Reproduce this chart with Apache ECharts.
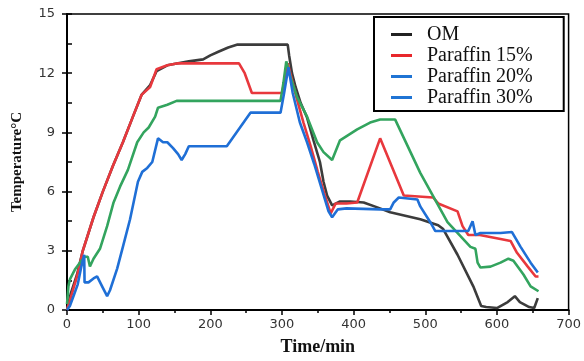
<!DOCTYPE html>
<html>
<head>
<meta charset="utf-8">
<script src="https://cdn.jsdelivr.net/npm/echarts@6/dist/echarts.min.js"></script>
<style>
  html, body { margin: 0; padding: 0; background: #fff; }
  #chart { width: 584px; height: 361px; }
</style>
</head>
<body>
<div id="chart"></div>
<script>
// 数据 [time(min), temperature(°C)]
var omData = [[0,0],[5,0.8],[14,1.8],[22,3.0],[37,4.7],[50,6.0],[64,7.3],[78,8.5],[92,9.8],[104,10.9],[116,11.4],[125,12.1],[140,12.4],[155,12.5],[170,12.6],[190,12.7],[200,12.9],[212,13.1],[225,13.3],[238,13.45],[308,13.45],[310,12.9],[314,12.0],[319,11.3],[326,10.5],[335,9.75],[344,8.6],[353,7.5],[358,6.5],[363,5.8],[370,5.3],[381,5.5],[395,5.5],[414,5.45],[433,5.2],[451,4.95],[475,4.75],[493,4.6],[518,4.3],[525,4.1],[545,2.8],[567,1.2],[578,0.2],[585,0.15],[600,0.1],[615,0.4],[625,0.7],[632,0.4],[645,0.15],[652,0.1],[657,0.6]];
var p15Data = [[0,0],[5,0.6],[14,1.7],[22,3.0],[37,4.7],[50,6.0],[64,7.3],[78,8.5],[92,9.8],[104,10.9],[116,11.3],[125,12.2],[140,12.4],[155,12.5],[240,12.5],[248,12.0],[258,11.0],[300,11.0],[303,11.5],[308,12.5],[313,11.8],[320,10.8],[330,9.5],[340,8.3],[350,7.0],[360,5.8],[368,4.9],[375,5.4],[390,5.4],[405,5.45],[437,8.7],[470,5.8],[511,5.7],[518,5.4],[545,5.0],[552,4.25],[560,3.8],[576,3.8],[605,3.6],[619,3.5],[628,2.9],[643,2.2],[654,1.7],[658,1.7]];
var p20Data = [[0,0],[4,0.2],[10,0.8],[15,1.3],[20,2.2],[24,2.8],[24.5,1.4],[30,1.4],[37,1.6],[42,1.7],[49,1.2],[56,0.7],[60,1.0],[70,2.1],[78,3.2],[88,4.6],[99,6.5],[105,7.0],[112,7.2],[119,7.5],[127,8.7],[134,8.5],[140,8.5],[148,8.2],[155,7.9],[160,7.6],[165,7.9],[170,8.3],[223,8.3],[256,10.0],[298,10.0],[303,11.0],[309,12.3],[315,11.0],[325,9.5],[335,8.5],[345,7.4],[355,6.2],[365,5.0],[370,4.7],[378,5.1],[390,5.15],[437,5.1],[451,5.1],[456,5.45],[463,5.7],[489,5.6],[493,5.25],[507,4.45],[514,4.0],[560,4.0],[566,4.5],[570,3.8],[577,3.9],[605,3.9],[621,3.95],[633,3.2],[647,2.4],[657,1.9]];
var p30Data = [[0,0.3],[2,1.2],[4,1.55],[11,2.05],[18,2.4],[25,2.7],[29,2.7],[32,2.2],[37,2.6],[46,3.1],[56,4.25],[65,5.45],[74,6.25],[85,7.1],[98,8.5],[107,9.0],[114,9.25],[123,9.8],[127,10.25],[140,10.4],[153,10.6],[298,10.6],[302,11.5],[306,12.6],[312,11.8],[321,10.8],[335,9.8],[349,8.5],[358,8.0],[370,7.6],[381,8.6],[405,9.15],[423,9.5],[437,9.65],[458,9.65],[493,6.95],[531,4.45],[563,3.2],[570,3.1],[573,2.4],[577,2.15],[591,2.2],[605,2.4],[616,2.6],[623,2.5],[637,1.8],[647,1.2],[658,0.95]];

var legendName = ['OM', 'Paraffin 15%', 'Paraffin 20%', 'Paraffin 30%'];
var xTicks = [0, 700, 100];
var yTicks = [0, 15, 3];

function lineSeries(name, data, color) {
    return {
        name: name,
        type: 'line',
        data: data,
        showSymbol: false,
        smooth: false,
        lineStyle: { color: color, width: 2.6 },
        itemStyle: { color: color }
    };
}

var option = {
    animation: false,
    backgroundColor: '#fff',
    grid: {
        left: 67, right: 14, top: 14, bottom: 50,
        show: true, borderColor: '#000', borderWidth: 1.5
    },
    legend: {
        orient: 'vertical',
        left: 374, top: 17,
        padding: [7, 31, 3, 17],
        itemGap: 0,
        itemWidth: 21, itemHeight: 3,
        icon: 'rect',
        borderColor: '#000', borderWidth: 2,
        backgroundColor: '#fff',
        textStyle: {
            fontFamily: 'Liberation Serif', fontSize: 20, color: '#111',
            lineHeight: 21, padding: [0, 0, 0, 10]
        },
        // 图例里 30% 的颜色跟原图一样是蓝色
        data: [
            { name: 'OM', itemStyle: { color: '#222' } },
            { name: 'Paraffin 15%', itemStyle: { color: '#e8272c' } },
            { name: 'Paraffin 20%', itemStyle: { color: '#1f74d4' } },
            { name: 'Paraffin 30%', itemStyle: { color: '#1f74d4' } }
        ]
    },
    xAxis: {
        type: 'value',
        min: xTicks[0], max: xTicks[1], interval: xTicks[2],
        name: 'Time/min',
        nameLocation: 'middle',
        nameGap: 28,
        nameTextStyle: { fontFamily: 'Liberation Serif', fontWeight: 'bold', fontSize: 18, color: '#111' },
        axisLine: { lineStyle: { color: '#000', width: 2 } },
        axisTick: { inside: false, length: 5, lineStyle: { color: '#000', width: 1.5 } },
        minorTick: { show: true, splitNumber: 2, length: 3, lineStyle: { color: '#000', width: 1.5 } },
        axisLabel: { fontFamily: 'DejaVu Sans', fontSize: 13, color: '#333', margin: 8 },
        splitLine: { show: false }
    },
    yAxis: [{
        type: 'value',
        min: yTicks[0], max: yTicks[1], interval: yTicks[2],
        name: 'Temperature°C',
        nameLocation: 'middle',
        nameGap: 42,
        nameTextStyle: { fontFamily: 'Liberation Serif', fontWeight: 'bold', fontSize: 15, color: '#111' },
        axisLine: { lineStyle: { color: '#000', width: 2 } },
        axisTick: { inside: false, length: 5, lineStyle: { color: '#000', width: 1.5 } },
        axisLabel: { fontFamily: 'DejaVu Sans', fontSize: 13, color: '#333', margin: 12 },
        splitLine: { show: false }
    }, {
        // 内侧小刻度
        type: 'value',
        position: 'left',
        min: yTicks[0], max: yTicks[1], interval: yTicks[2] / 2,
        axisLine: { show: false },
        axisTick: { inside: true, length: 5, lineStyle: { color: '#000', width: 1.5 } },
        axisLabel: { show: false },
        splitLine: { show: false }
    }],
    series: [
        lineSeries(legendName[0], omData, '#3c3c3c'),
        lineSeries(legendName[1], p15Data, '#e8383d'),
        lineSeries(legendName[3], p30Data, '#33a45e'),
        lineSeries(legendName[2], p20Data, '#1f6fd6')
    ]
};

var doc = document.getElementById('chart');
echarts.init(doc).setOption(option);
</script>
</body>
</html>
